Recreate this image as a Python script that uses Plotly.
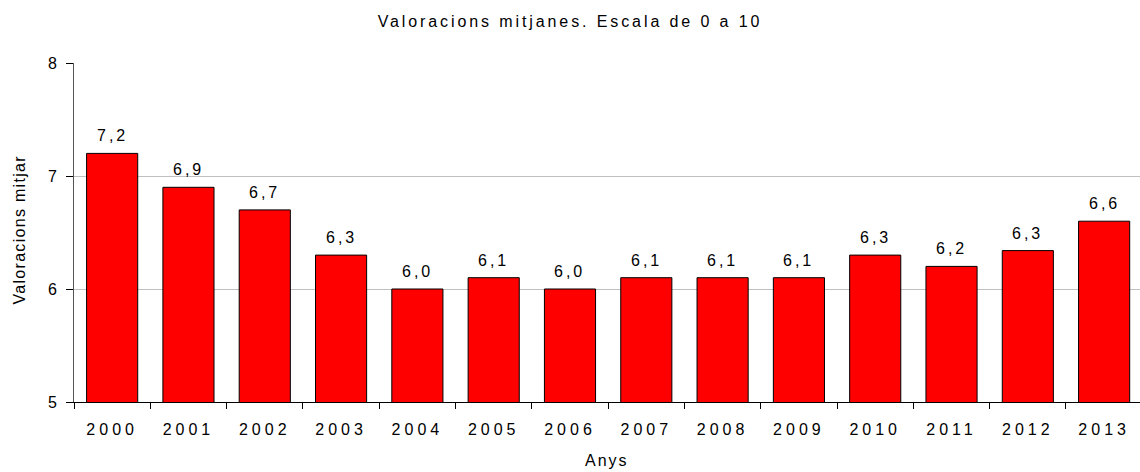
import plotly.graph_objects as go

years = ["2000", "2001", "2002", "2003", "2004", "2005", "2006",
         "2007", "2008", "2009", "2010", "2011", "2012", "2013"]
values = [7.2, 6.9, 6.7, 6.3, 6.0, 6.1, 6.0, 6.1, 6.1, 6.1, 6.3, 6.2, 6.34, 6.6]
labels = ["7,2", "6,9", "6,7", "6,3", "6,0", "6,1", "6,0", "6,1", "6,1", "6,1",
          "6,3", "6,2", "6,3", "6,6"]
yticks = [5, 6, 7, 8]

FONT = "Liberation Sans, Arial, sans-serif"

def spaced(s, ls):
    return f'<span style="letter-spacing:{ls}">{s}</span>'

fig = go.Figure()
fig.add_trace(go.Bar(
    x=years, y=values,
    marker=dict(color="#ff0000", line=dict(color="#000000", width=1)),
    width=0.67,
    hoverinfo="skip",
))

for i, (v, lab) in enumerate(zip(values, labels)):
    fig.add_annotation(
        x=i, y=v, xref="x", yref="y",
        text=spaced(lab, "3px"), showarrow=False,
        xanchor="center", yanchor="bottom", yshift=7,
        font=dict(family=FONT, size=16, color="#000000"),
    )

# axis titles
fig.add_annotation(
    x=0, y=0.5, xref="paper", yref="paper", xanchor="center", yanchor="middle",
    xshift=-55, yshift=2, textangle=-90, showarrow=False,
    text=spaced("Valoracions mitjar", "1.3px"),
    font=dict(family=FONT, size=16, color="#000000"),
)
fig.add_annotation(
    x=0.5, y=0, xref="paper", yref="paper", xanchor="center", yanchor="middle",
    yshift=-58, showarrow=False,
    text=spaced("Anys", "2px"),
    font=dict(family=FONT, size=16, color="#000000"),
)

fig.update_layout(
    width=1140, height=472,
    paper_bgcolor="white", plot_bgcolor="white",
    margin=dict(l=74, r=0, t=63, b=70),
    showlegend=False,
    title=dict(text=spaced("Valoracions mitjanes. Escala de 0 a 10", "2.9px"),
               x=0.5, xanchor="center", y=0.954, yanchor="middle",
               font=dict(family=FONT, size=16, color="#000000")),
    xaxis=dict(
        type="category",
        range=[-0.5, 13.47],
        automargin=False,
        tickmode="array", tickvals=years,
        ticktext=[spaced(y, "4px") for y in years],
        tickson="boundaries",
        ticks="outside", ticklen=6, tickcolor="#000000", tickwidth=1,
        ticklabelstandoff=13,
        showline=True, linecolor="#000000", linewidth=1,
        showgrid=False,
        tickfont=dict(family=FONT, size=16, color="#000000"),
    ),
    yaxis=dict(
        range=[5, 8],
        automargin=False,
        tickmode="array", tickvals=yticks, ticktext=[str(v) for v in yticks],
        ticks="outside", ticklen=7, tickcolor="#000000", tickwidth=1,
        ticklabelstandoff=6,
        showline=True, linecolor="#555555", linewidth=1,
        showgrid=True, gridcolor="#c0c0c0", gridwidth=1,
        zeroline=False,
        tickfont=dict(family=FONT, size=16, color="#000000"),
    ),
)

fig.write_html("out.html", config={"displayModeBar": False},
               post_script="document.body.style.margin='0';")
